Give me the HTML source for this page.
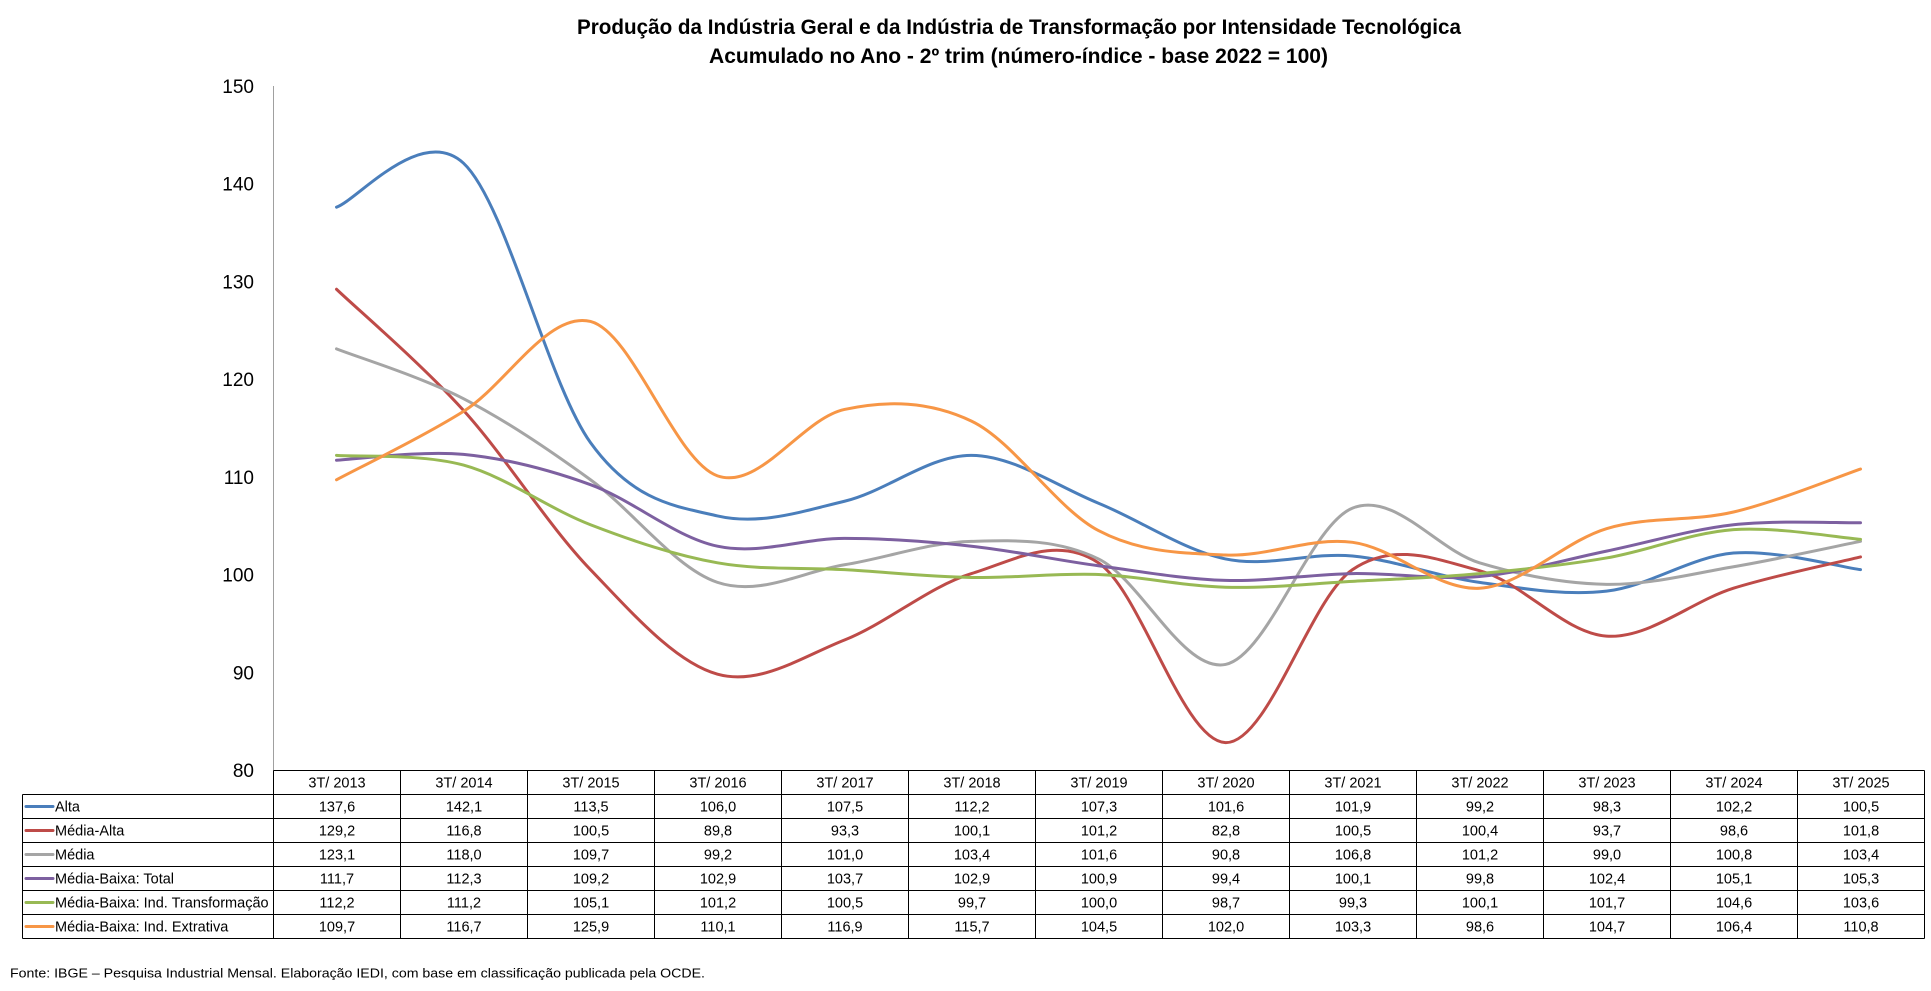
<!DOCTYPE html>
<html><head><meta charset="utf-8"><style>
html,body{margin:0;padding:0;background:#fff;}
svg{display:block;}
text{font-family:"Liberation Sans",Arial,sans-serif;fill:#000;}
</style></head><body>
<svg width="1931" height="991" viewBox="0 0 1931 991" xmlns="http://www.w3.org/2000/svg">
<rect x="0" y="0" width="1931" height="991" fill="#fff"/>
<!-- Title -->
<text x="577" y="34" font-size="21" font-weight="bold" textLength="884" lengthAdjust="spacingAndGlyphs">Produção da Indústria Geral e da Indústria de Transformação por Intensidade Tecnológica</text>
<text x="709" y="63" font-size="21" font-weight="bold" textLength="619" lengthAdjust="spacingAndGlyphs">Acumulado no Ano - 2º trim (número-índice - base 2022 = 100)</text>

<!-- Y axis labels -->
<g font-size="19" text-anchor="end">
<text x="254" y="93">150</text>
<text x="254" y="190.7">140</text>
<text x="254" y="288.4">130</text>
<text x="254" y="386.1">120</text>
<text x="254" y="483.8">110</text>
<text x="254" y="581.6">100</text>
<text x="254" y="679.3">90</text>
<text x="254" y="777">80</text>
</g>
<line x1="273.5" y1="86" x2="273.5" y2="771" stroke="#a0a0a0" stroke-width="1"/>

<!-- Series -->
<g transform="matrix(127 0 0 -9.771 336.5 1551.65)" fill="none" stroke-width="3" stroke-linecap="round" stroke-linejoin="round">
<path vector-effect="non-scaling-stroke" stroke="#4A7EBB" d="M0 137.6 C0.1667 138.35 0.6667 146.1167 1 142.1 C1.3333 138.0833 1.6667 119.5167 2 113.5 C2.3333 107.4833 2.6667 107.0 3 106.0 C3.3333 105.0 3.6667 106.4667 4 107.5 C4.3333 108.5333 4.6667 112.2333 5 112.2 C5.3333 112.1667 5.6667 109.0667 6 107.3 C6.3333 105.5333 6.6667 102.5 7 101.6 C7.3333 100.7 7.6667 102.3 8 101.9 C8.3333 101.5 8.6667 99.8 9 99.2 C9.3333 98.6 9.6667 97.8 10 98.3 C10.3333 98.8 10.6667 101.8333 11 102.2 C11.3333 102.5667 11.8333 100.7833 12 100.5"/>
<path vector-effect="non-scaling-stroke" stroke="#BE4B48" d="M0 129.2 C0.1667 127.1333 0.6667 121.5833 1 116.8 C1.3333 112.0167 1.6667 105.0 2 100.5 C2.3333 96.0 2.6667 91.0 3 89.8 C3.3333 88.6 3.6667 91.5833 4 93.3 C4.3333 95.0167 4.6667 98.7833 5 100.1 C5.3333 101.4167 5.6667 104.0833 6 101.2 C6.3333 98.3167 6.6667 82.9167 7 82.8 C7.3333 82.6833 7.6667 97.5667 8 100.5 C8.3333 103.4333 8.6667 101.5333 9 100.4 C9.3333 99.2667 9.6667 94.0 10 93.7 C10.3333 93.4 10.6667 97.25 11 98.6 C11.3333 99.95 11.8333 101.2667 12 101.8"/>
<path vector-effect="non-scaling-stroke" stroke="#A5A5A5" d="M0 123.1 C0.1667 122.25 0.6667 120.2333 1 118.0 C1.3333 115.7667 1.6667 112.8333 2 109.7 C2.3333 106.5667 2.6667 100.65 3 99.2 C3.3333 97.75 3.6667 100.3 4 101.0 C4.3333 101.7 4.6667 103.3 5 103.4 C5.3333 103.5 5.6667 103.7 6 101.6 C6.3333 99.5 6.6667 89.9333 7 90.8 C7.3333 91.6667 7.6667 105.0667 8 106.8 C8.3333 108.5333 8.6667 102.5 9 101.2 C9.3333 99.9 9.6667 99.0667 10 99.0 C10.3333 98.9333 10.6667 100.0667 11 100.8 C11.3333 101.5333 11.8333 102.9667 12 103.4"/>
<path vector-effect="non-scaling-stroke" stroke="#7D60A0" d="M0 111.7 C0.1667 111.8 0.6667 112.7167 1 112.3 C1.3333 111.8833 1.6667 110.7667 2 109.2 C2.3333 107.6333 2.6667 103.8167 3 102.9 C3.3333 101.9833 3.6667 103.7 4 103.7 C4.3333 103.7 4.6667 103.3667 5 102.9 C5.3333 102.4333 5.6667 101.4833 6 100.9 C6.3333 100.3167 6.6667 99.5333 7 99.4 C7.3333 99.2667 7.6667 100.0333 8 100.1 C8.3333 100.1667 8.6667 99.4167 9 99.8 C9.3333 100.1833 9.6667 101.5167 10 102.4 C10.3333 103.2833 10.6667 104.6167 11 105.1 C11.3333 105.5833 11.8333 105.2667 12 105.3"/>
<path vector-effect="non-scaling-stroke" stroke="#98B954" d="M0 112.2 C0.1667 112.0333 0.6667 112.3833 1 111.2 C1.3333 110.0167 1.6667 106.7667 2 105.1 C2.3333 103.4333 2.6667 101.9667 3 101.2 C3.3333 100.4333 3.6667 100.75 4 100.5 C4.3333 100.25 4.6667 99.7833 5 99.7 C5.3333 99.6167 5.6667 100.1667 6 100.0 C6.3333 99.8333 6.6667 98.8167 7 98.7 C7.3333 98.5833 7.6667 99.0667 8 99.3 C8.3333 99.5333 8.6667 99.7 9 100.1 C9.3333 100.5 9.6667 100.95 10 101.7 C10.3333 102.45 10.6667 104.2833 11 104.6 C11.3333 104.9167 11.8333 103.7667 12 103.6"/>
<path vector-effect="non-scaling-stroke" stroke="#F79646" d="M0 109.7 C0.1667 110.8667 0.6667 114.0 1 116.7 C1.3333 119.4 1.6667 127.0 2 125.9 C2.3333 124.8 2.6667 111.6 3 110.1 C3.3333 108.6 3.6667 115.9667 4 116.9 C4.3333 117.8333 4.6667 117.7667 5 115.7 C5.3333 113.6333 5.6667 106.7833 6 104.5 C6.3333 102.2167 6.6667 102.2 7 102.0 C7.3333 101.8 7.6667 103.8667 8 103.3 C8.3333 102.7333 8.6667 98.3667 9 98.6 C9.3333 98.8333 9.6667 103.4 10 104.7 C10.3333 106.0 10.6667 105.3833 11 106.4 C11.3333 107.4167 11.8333 110.0667 12 110.8"/>
</g>

<!-- Table grid -->
<g stroke="#000" stroke-width="1" fill="none">
<line x1="273.5" y1="770.5" x2="1924.5" y2="770.5"/>
<line x1="22.5" y1="794.5" x2="1924.5" y2="794.5"/>
<line x1="22.5" y1="818.5" x2="1924.5" y2="818.5"/>
<line x1="22.5" y1="842.5" x2="1924.5" y2="842.5"/>
<line x1="22.5" y1="866.5" x2="1924.5" y2="866.5"/>
<line x1="22.5" y1="890.5" x2="1924.5" y2="890.5"/>
<line x1="22.5" y1="914.5" x2="1924.5" y2="914.5"/>
<line x1="22.5" y1="938.5" x2="1924.5" y2="938.5"/>
<line x1="22.5" y1="794.5" x2="22.5" y2="938.5"/>
<line x1="273.5" y1="770.5" x2="273.5" y2="938.5"/>
<line x1="400.5" y1="770.5" x2="400.5" y2="938.5"/>
<line x1="527.5" y1="770.5" x2="527.5" y2="938.5"/>
<line x1="654.5" y1="770.5" x2="654.5" y2="938.5"/>
<line x1="781.5" y1="770.5" x2="781.5" y2="938.5"/>
<line x1="908.5" y1="770.5" x2="908.5" y2="938.5"/>
<line x1="1035.5" y1="770.5" x2="1035.5" y2="938.5"/>
<line x1="1162.5" y1="770.5" x2="1162.5" y2="938.5"/>
<line x1="1289.5" y1="770.5" x2="1289.5" y2="938.5"/>
<line x1="1416.5" y1="770.5" x2="1416.5" y2="938.5"/>
<line x1="1543.5" y1="770.5" x2="1543.5" y2="938.5"/>
<line x1="1670.5" y1="770.5" x2="1670.5" y2="938.5"/>
<line x1="1797.5" y1="770.5" x2="1797.5" y2="938.5"/>
<line x1="1924.5" y1="770.5" x2="1924.5" y2="938.5"/>
</g>

<!-- Legend swatches -->
<g stroke-width="3" stroke-linecap="round">
<line x1="26" y1="806.5" x2="53" y2="806.5" stroke="#4A7EBB"/>
<line x1="26" y1="830.5" x2="53" y2="830.5" stroke="#BE4B48"/>
<line x1="26" y1="854.5" x2="53" y2="854.5" stroke="#A5A5A5"/>
<line x1="26" y1="878.5" x2="53" y2="878.5" stroke="#7D60A0"/>
<line x1="26" y1="902.5" x2="53" y2="902.5" stroke="#98B954"/>
<line x1="26" y1="926.5" x2="53" y2="926.5" stroke="#F79646"/>
</g>
<g font-size="14.5">
<text x="55" y="811.5">Alta</text>
<text x="55" y="835.5">Média-Alta</text>
<text x="55" y="859.5">Média</text>
<text x="55" y="883.5">Média-Baixa: Total</text>
<text x="55" y="907.5">Média-Baixa: Ind. Transformação</text>
<text x="55" y="931.5">Média-Baixa: Ind. Extrativa</text>
</g>

<!-- Header -->
<g font-size="14.5" text-anchor="middle">
<text x="337" y="787.5">3T/ 2013</text>
<text x="464" y="787.5">3T/ 2014</text>
<text x="591" y="787.5">3T/ 2015</text>
<text x="718" y="787.5">3T/ 2016</text>
<text x="845" y="787.5">3T/ 2017</text>
<text x="972" y="787.5">3T/ 2018</text>
<text x="1099" y="787.5">3T/ 2019</text>
<text x="1226" y="787.5">3T/ 2020</text>
<text x="1353" y="787.5">3T/ 2021</text>
<text x="1480" y="787.5">3T/ 2022</text>
<text x="1607" y="787.5">3T/ 2023</text>
<text x="1734" y="787.5">3T/ 2024</text>
<text x="1861" y="787.5">3T/ 2025</text>
</g>

<!-- Data rows -->
<g font-size="14.5" text-anchor="middle">
<g transform="translate(0,811.5)">
<text x="337">137,6</text><text x="464">142,1</text><text x="591">113,5</text><text x="718">106,0</text><text x="845">107,5</text><text x="972">112,2</text><text x="1099">107,3</text><text x="1226">101,6</text><text x="1353">101,9</text><text x="1480">99,2</text><text x="1607">98,3</text><text x="1734">102,2</text><text x="1861">100,5</text>
</g>
<g transform="translate(0,835.5)">
<text x="337">129,2</text><text x="464">116,8</text><text x="591">100,5</text><text x="718">89,8</text><text x="845">93,3</text><text x="972">100,1</text><text x="1099">101,2</text><text x="1226">82,8</text><text x="1353">100,5</text><text x="1480">100,4</text><text x="1607">93,7</text><text x="1734">98,6</text><text x="1861">101,8</text>
</g>
<g transform="translate(0,859.5)">
<text x="337">123,1</text><text x="464">118,0</text><text x="591">109,7</text><text x="718">99,2</text><text x="845">101,0</text><text x="972">103,4</text><text x="1099">101,6</text><text x="1226">90,8</text><text x="1353">106,8</text><text x="1480">101,2</text><text x="1607">99,0</text><text x="1734">100,8</text><text x="1861">103,4</text>
</g>
<g transform="translate(0,883.5)">
<text x="337">111,7</text><text x="464">112,3</text><text x="591">109,2</text><text x="718">102,9</text><text x="845">103,7</text><text x="972">102,9</text><text x="1099">100,9</text><text x="1226">99,4</text><text x="1353">100,1</text><text x="1480">99,8</text><text x="1607">102,4</text><text x="1734">105,1</text><text x="1861">105,3</text>
</g>
<g transform="translate(0,907.5)">
<text x="337">112,2</text><text x="464">111,2</text><text x="591">105,1</text><text x="718">101,2</text><text x="845">100,5</text><text x="972">99,7</text><text x="1099">100,0</text><text x="1226">98,7</text><text x="1353">99,3</text><text x="1480">100,1</text><text x="1607">101,7</text><text x="1734">104,6</text><text x="1861">103,6</text>
</g>
<g transform="translate(0,931.5)">
<text x="337">109,7</text><text x="464">116,7</text><text x="591">125,9</text><text x="718">110,1</text><text x="845">116,9</text><text x="972">115,7</text><text x="1099">104,5</text><text x="1226">102,0</text><text x="1353">103,3</text><text x="1480">98,6</text><text x="1607">104,7</text><text x="1734">106,4</text><text x="1861">110,8</text>
</g>
</g>

<!-- Footnote -->
<text x="10" y="977.5" font-size="12.5" textLength="695" lengthAdjust="spacingAndGlyphs">Fonte: IBGE – Pesquisa Industrial Mensal. Elaboração IEDI, com base em classificação publicada pela OCDE.</text>
</svg>
</body></html>
